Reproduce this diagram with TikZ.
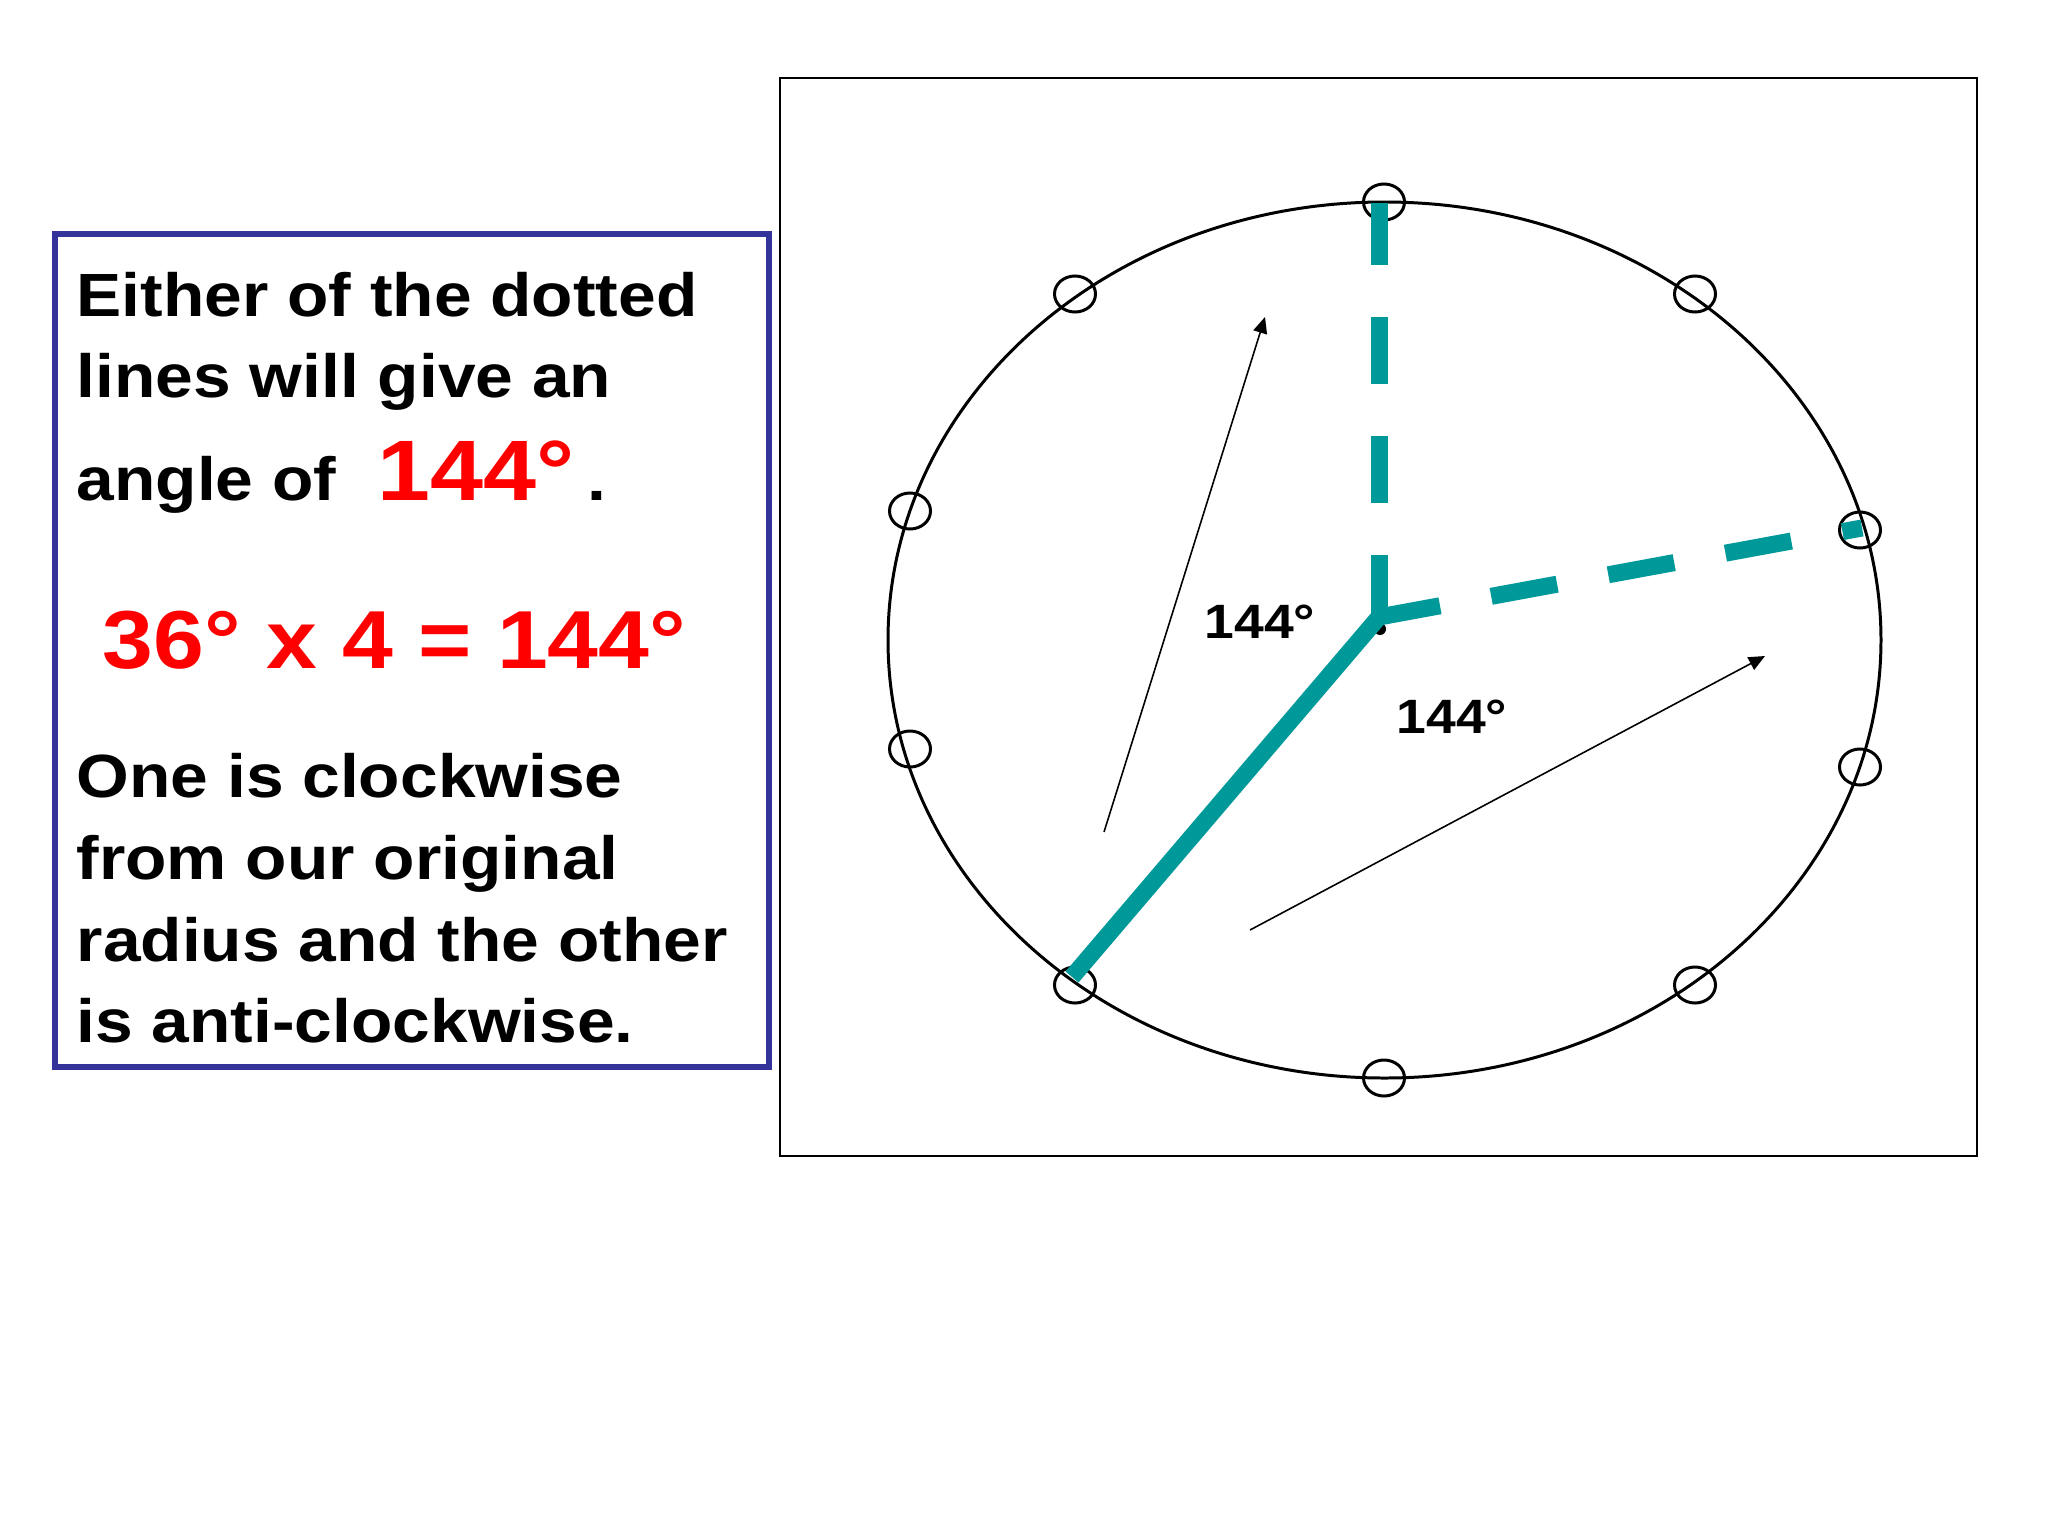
\documentclass[tikz,border=0pt]{standalone}
\usepackage{fontspec}
\setmainfont{Liberation Sans}[FakeStretch=1.11]
\usetikzlibrary{arrows.meta,shapes.geometric}
\definecolor{tealline}{RGB}{0,153,153}
\definecolor{boxblue}{RGB}{51,51,153}
\definecolor{redtxt}{RGB}{255,0,0}
\tikzset{
  bodytext/.style={anchor=base west,inner sep=0pt,font=\fontsize{17.35pt}{20pt}\selectfont\bfseries},
  redtext/.style={anchor=base west,inner sep=0pt,text=redtxt,font=\fontsize{24.4pt}{28pt}\selectfont\bfseries},
  eqtext/.style={redtext,font=\fontsize{23.4pt}{28pt}\selectfont\bfseries},
  anglelabel/.style={anchor=base west,inner sep=0pt,font=\fontsize{13.7pt}{16pt}\selectfont\bfseries},
  marker/.style={draw=black,line width=0.85pt,ellipse,minimum width=0.41cm,minimum height=0.36cm,inner sep=0pt},
  radiusline/.style={draw=tealline,line width=4.84pt,line cap=butt},
  dashradius/.style={radiusline,dash pattern=on 19.06pt off 14.8pt,dash phase=1.42pt},
  thinarrow/.style={draw=black,line width=0.45pt,-{Triangle[length=4.6pt,width=4pt]}}
}
\begin{document}
\begin{tikzpicture}[x=0.01cm,y=-0.01cm]
\useasboundingbox[fill=white] (0,0) rectangle (2048,1536);
% left text box
\draw[boxblue,line width=1.7pt] (55,234) rectangle (769,1067);
\node[bodytext] (l1) at (76,316) {Either of the dotted};
\node[bodytext] (l2) at (76,397) {lines will give an};
\node[bodytext] (l3) at (76,500) {angle of};
\node[redtext] (l3r) at (377,500) {144°};
\node[bodytext] (l3p) at (587,500) {.};
\node[eqtext] (eq) at (102,668) {36° x 4 = 144°};
\node[bodytext] (l5) at (76,797) {One is clockwise};
\node[bodytext] (l6) at (76,879) {from our original};
\node[bodytext] (l7) at (76,961) {radius and the other};
\node[bodytext] (l8) at (76,1042) {is anti-clockwise.};
% right frame
\draw[black,line width=0.7pt] (780,78) rectangle (1977,1156);
\draw[black,line width=0.85pt] (1384.5,640) ellipse [x radius=496.5, y radius=438];
% markers
\node[marker] (m0) at (1384,202) {};
\node[marker] (m1) at (1695,294) {};
\node[marker] (m2) at (1860,530) {};
\node[marker] (m3) at (1860,767) {};
\node[marker] (m4) at (1695,985) {};
\node[marker] (m5) at (1384,1078) {};
\node[marker] (m6) at (1075,985) {};
\node[marker] (m7) at (910,749) {};
\node[marker] (m8) at (910,511) {};
\node[marker] (m9) at (1075,294) {};
% hub
\coordinate (hub) at (1379,617);
\coordinate (topend) at (1379,203);
\coordinate (rightend) at (1862,528);
\coordinate (lowend) at (1072,977);
\fill[black] (1380,629) circle (6);
\draw[radiusline] (lowend) -- (hub);
\draw[dashradius] (hub) -- (topend);
\draw[dashradius] (hub) -- (rightend);
% arrows
\coordinate (a1s) at (1104,832);
\coordinate (a1e) at (1265,317);
\coordinate (a2s) at (1250,930);
\coordinate (a2e) at (1765,656);
\draw[thinarrow] (a1s) -- (a1e);
\draw[thinarrow] (a2s) -- (a2e);
% angle labels
\node[anglelabel] (ang1) at (1204,638) {144°};
\node[anglelabel] (ang2) at (1396,733) {144°};
\end{tikzpicture}
\end{document}
